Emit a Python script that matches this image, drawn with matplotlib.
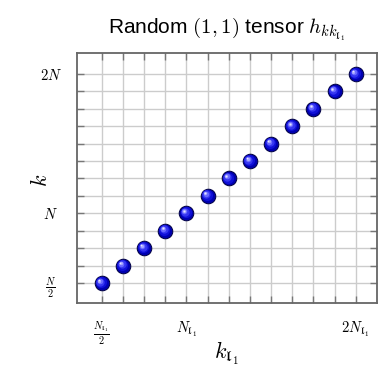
import matplotlib
matplotlib.use("Agg")
import matplotlib.pyplot as plt
import matplotlib.transforms as mtransforms
from matplotlib.ticker import FixedLocator, FixedFormatter

plt.rcParams["mathtext.fontset"] = "cm"
plt.rcParams["font.family"] = ["Liberation Sans", "DejaVu Sans"]

# Index positions (in units of N) of the random (1,1) tensor entries
k_l1 = [0.5, 0.625, 0.75, 0.875, 1.0, 1.125, 1.25, 1.375, 1.5, 1.625, 1.75, 1.875, 2.0]
k = [0.5, 0.625, 0.75, 0.875, 1.0, 1.125, 1.25, 1.375, 1.5, 1.625, 1.75, 1.875, 2.0]

grid_pos = [0.5, 0.625, 0.75, 0.875, 1.0, 1.125, 1.25, 1.375, 1.5, 1.625, 1.75, 1.875, 2.0]
x_tick_labels = [r"$\frac{N_{\mathfrak{l}_1}}{2}$", "", "", "", r"$N_{\mathfrak{l}_1}$",
                 "", "", "", "", "", "", "", r"$2N_{\mathfrak{l}_1}$"]
y_tick_labels = [r"$\frac{N}{2}$", "", "", "", r"$N$",
                 "", "", "", "", "", "", "", r"$2N$"]

fig = plt.figure(figsize=(3.79, 3.71), dpi=100)
ax = fig.add_axes([0.2032, 0.1833, 0.7916, 0.6738])

ax.set_xlim(0.354, 2.126)
ax.set_ylim(0.356, 2.15)

for axis, labels in ((ax.xaxis, x_tick_labels), (ax.yaxis, y_tick_labels)):
    axis.set_major_locator(FixedLocator(grid_pos))
    axis.set_major_formatter(FixedFormatter(labels))

ax.grid(True, color="#cccccc", linewidth=1.0, zorder=0)
ax.set_axisbelow(True)
ax.tick_params(direction="in", length=5, width=1.0, color="#777777",
               top=True, right=True, labelsize=10.5)
ax.tick_params(axis="x", pad=12)
ax.tick_params(axis="y", pad=19)
for lab in ax.get_yticklabels():
    lab.set_horizontalalignment("center")
for sp in ax.spines.values():
    sp.set_color("#666666")
    sp.set_linewidth(1.3)

# Shaded spheres: dark rim, blue body, lighter highlight toward upper left
ax.plot(k_l1, k, "o", ms=10.5, mfc="#0000b0", mec="#000040", mew=0.7, zorder=3)
shades = [("#1010d8", 8.0, 0.6), ("#3535f0", 6.0, 1.0), ("#6a6aff", 4.0, 1.4),
          ("#a8a8ff", 2.4, 1.7), ("#e6e6ff", 1.2, 1.9)]
for color, size, off in shades:
    tr = mtransforms.offset_copy(ax.transData, fig=fig, x=-off, y=off, units="points")
    ax.plot(k_l1, k, "o", ms=size, mfc=color, mec="none", transform=tr, zorder=4)

ax.set_title(r"Random $(1,1)$ tensor $h_{kk_{\mathfrak{l}_1}}$", fontsize=15, pad=14)
ax.set_xlabel(r"$k_{\mathfrak{l}_1}$", fontsize=16)
ax.set_ylabel(r"$k$", fontsize=16)
ax.xaxis.set_label_coords(0.5, -0.2)
ax.xaxis.label.set_verticalalignment("center")
ax.yaxis.set_label_coords(-0.12, 0.49)
ax.yaxis.label.set_verticalalignment("center")

fig.savefig("out.png", dpi=100)
